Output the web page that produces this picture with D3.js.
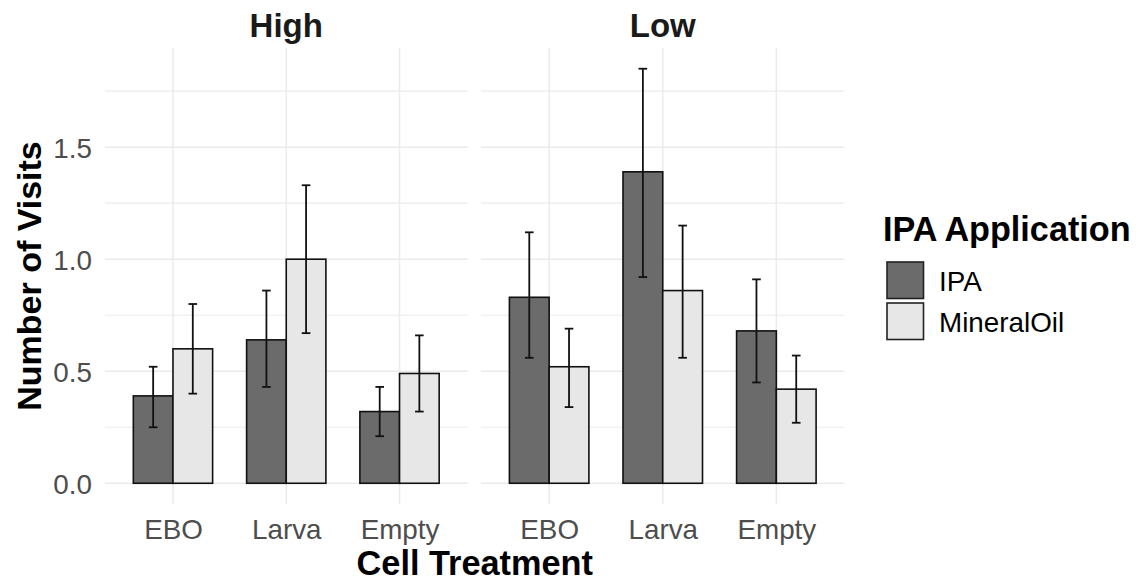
<!DOCTYPE html>
<html>
<head>
<meta charset="utf-8">
<script src="https://cdn.jsdelivr.net/npm/d3@7"></script>
<style>
  html, body { margin: 0; padding: 0; background: #ffffff; }
  svg { display: block; font-family: "Liberation Sans", Arial, sans-serif; }
</style>
</head>
<body>
<svg id="chart" width="1144" height="586"></svg>
<script>
// Facets, categories and fill groups
const panels = ["High", "Low"];
const treatments = ["EBO", "Larva", "Empty"];
const groups = ["IPA", "MineralOil"];

// Mean visits per treatment, one array per facet and group
const highIPA = [0.39, 0.64, 0.32];
const highOil = [0.60, 1.00, 0.49];
const lowIPA = [0.83, 1.39, 0.68];
const lowOil = [0.52, 0.86, 0.42];

// Error bar bounds (lower, upper)
const highIPALower = [0.25, 0.43, 0.21];
const highIPAUpper = [0.52, 0.86, 0.43];
const highOilLower = [0.40, 0.67, 0.32];
const highOilUpper = [0.80, 1.33, 0.66];
const lowIPALower = [0.56, 0.92, 0.45];
const lowIPAUpper = [1.12, 1.85, 0.91];
const lowOilLower = [0.34, 0.56, 0.27];
const lowOilUpper = [0.69, 1.15, 0.57];

const yTicks = [0, 0.5, 1.0, 1.5];
const yMinorTicks = [0.25, 0.75, 1.25, 1.75];

const legendTitle = "IPA Application";
const xTitle = "Cell Treatment";
const yTitle = "Number of Visits";

// Build long-format rows from the arrays
const series = {
  High: { IPA: [highIPA, highIPALower, highIPAUpper], MineralOil: [highOil, highOilLower, highOilUpper] },
  Low:  { IPA: [lowIPA, lowIPALower, lowIPAUpper],   MineralOil: [lowOil, lowOilLower, lowOilUpper] }
};
const rows = [];
panels.forEach(p => groups.forEach(g => treatments.forEach((t, i) => {
  const [m, lo, hi] = series[p][g];
  rows.push({ panel: p, group: g, treatment: t, mean: m[i], lower: lo[i], upper: hi[i] });
})));

const svg = d3.select("#chart");

const fillColor = d3.scaleOrdinal().domain(groups).range(["#6b6b6b", "#e7e7e7"]);

// Shared y scale with 5% padding around the data range
const yMax = d3.max(rows, d => d.upper);
const y = d3.scaleLinear().domain([-0.05 * yMax, 1.05 * yMax]).range([504, 48]);

const panelX = { High: [105, 467.5], Low: [481, 844.5] };
const gridColor = "#ebebeb";
const inkColor = "#111111";

panels.forEach(p => {
  const [x0, x1] = panelX[p];
  const x = d3.scalePoint().domain(treatments).range([x0, x1]).padding(0.6);
  const step = x.step();
  const dodge = d3.scaleBand().domain(groups).range([-0.35 * step, 0.35 * step]).padding(0);

  const g = svg.append("g");

  // minor horizontal grid
  g.selectAll("line.minor").data(yMinorTicks.filter(v => y(v) >= 48 && y(v) <= 504)).join("line")
    .attr("x1", x0).attr("x2", x1)
    .attr("y1", d => y(d)).attr("y2", d => y(d))
    .attr("stroke", gridColor).attr("stroke-width", 1.1);

  // major horizontal grid
  g.selectAll("line.major").data(yTicks).join("line")
    .attr("x1", x0).attr("x2", x1)
    .attr("y1", d => y(d)).attr("y2", d => y(d))
    .attr("stroke", gridColor).attr("stroke-width", 1.5);

  // vertical grid at categories
  g.selectAll("line.vgrid").data(treatments).join("line")
    .attr("x1", d => x(d)).attr("x2", d => x(d))
    .attr("y1", 48).attr("y2", 504)
    .attr("stroke", gridColor).attr("stroke-width", 1.5);

  const pr = rows.filter(r => r.panel === p);

  // bars
  g.selectAll("rect.bar").data(pr).join("rect")
    .attr("x", d => x(d.treatment) + dodge(d.group))
    .attr("width", dodge.bandwidth())
    .attr("y", d => y(d.mean))
    .attr("height", d => y(0) - y(d.mean))
    .attr("fill", d => fillColor(d.group))
    .attr("stroke", inkColor).attr("stroke-width", 1.6);

  // error bars
  const capHalf = 0.038 * step;
  const eb = g.selectAll("g.err").data(pr).join("g")
    .attr("transform", d => `translate(${x(d.treatment) + dodge(d.group) + dodge.bandwidth() / 2},0)`);
  eb.append("line").attr("x1", 0).attr("x2", 0)
    .attr("y1", d => y(d.lower)).attr("y2", d => y(d.upper))
    .attr("stroke", inkColor).attr("stroke-width", 1.8);
  eb.append("line").attr("x1", -capHalf).attr("x2", capHalf)
    .attr("y1", d => y(d.upper)).attr("y2", d => y(d.upper))
    .attr("stroke", inkColor).attr("stroke-width", 1.8);
  eb.append("line").attr("x1", -capHalf).attr("x2", capHalf)
    .attr("y1", d => y(d.lower)).attr("y2", d => y(d.lower))
    .attr("stroke", inkColor).attr("stroke-width", 1.8);

  // x tick labels via axis generator
  const xAxis = g.append("g").attr("transform", "translate(0,512)")
    .call(d3.axisBottom(x).tickSize(0).tickPadding(0));
  xAxis.select(".domain").remove();
  xAxis.selectAll("text")
    .attr("y", 27).attr("dy", 0)
    .attr("font-size", 27.8)
    .attr("font-family", "Liberation Sans, Arial, sans-serif")
    .attr("fill", "#4d4d4d");

  // facet strip title
  g.append("text")
    .attr("x", (x0 + x1) / 2).attr("y", 37.3)
    .attr("text-anchor", "middle")
    .attr("font-size", 33).attr("font-weight", "bold")
    .attr("fill", "#1a1a1a")
    .text(p);
});

// y tick labels (left panel only)
const yAxis = svg.append("g").attr("transform", "translate(92,0)")
  .call(d3.axisLeft(y).tickValues(yTicks).tickFormat(d3.format(".1f")).tickSize(0).tickPadding(0));
yAxis.select(".domain").remove();
yAxis.selectAll("text")
  .attr("font-size", 27.8)
  .attr("font-family", "Liberation Sans, Arial, sans-serif")
  .attr("fill", "#4d4d4d")
  .attr("dy", "0.36em");

// axis titles
svg.append("text")
  .attr("x", (panelX.High[0] + panelX.Low[1]) / 2).attr("y", 575)
  .attr("text-anchor", "middle")
  .attr("font-size", 34.3).attr("font-weight", "bold").attr("fill", "#000")
  .text(xTitle);

svg.append("text")
  .attr("transform", `translate(41,${(48 + 504) / 2}) rotate(-90)`)
  .attr("text-anchor", "middle")
  .attr("font-size", 34).attr("font-weight", "bold").attr("fill", "#000")
  .text(yTitle);

// legend
const legend = svg.append("g").attr("transform", "translate(883,0)");
legend.append("text")
  .attr("x", 0).attr("y", 241)
  .attr("font-size", 34.2).attr("font-weight", "bold").attr("fill", "#000")
  .text(legendTitle);

const keyTop = [262, 303];
groups.forEach((grp, i) => {
  legend.append("rect")
    .attr("x", 4).attr("y", keyTop[i])
    .attr("width", 36.5).attr("height", 36.5)
    .attr("fill", fillColor(grp))
    .attr("stroke", "#222222").attr("stroke-width", 1.6);
  legend.append("text")
    .attr("x", 56).attr("y", keyTop[i] + 18.5)
    .attr("dy", "0.36em")
    .attr("font-size", 27.8).attr("fill", "#000")
    .text(grp);
});
</script>
</body>
</html>
